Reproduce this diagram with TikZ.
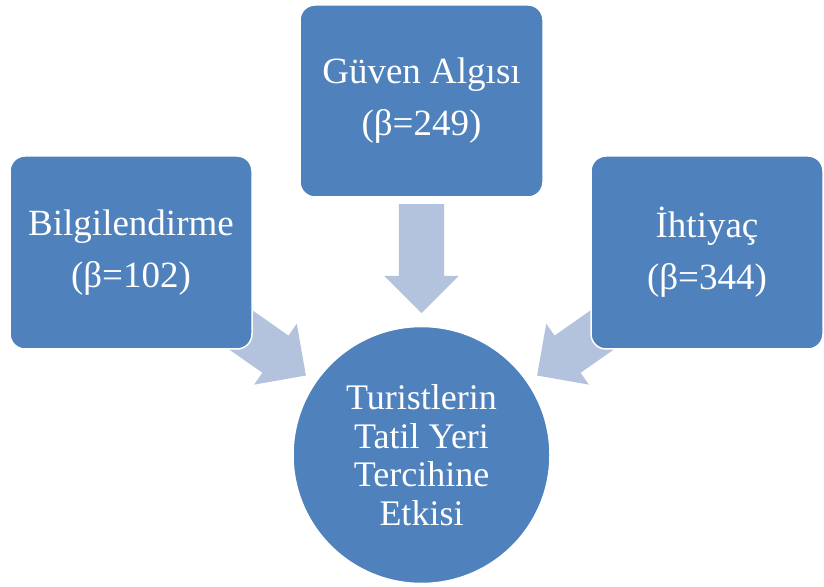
\documentclass[tikz,border=0pt]{standalone}
\usepackage{fontspec}
\setmainfont{Liberation Serif}
\usepackage{tikz}
\usetikzlibrary{shapes.arrows, positioning, calc, backgrounds}
\definecolor{kutumavi}{RGB}{79,129,189}
\definecolor{okmavi}{RGB}{179,194,221}

\begin{document}
\begin{tikzpicture}[x=1pt, y=1pt,
	kutu/.style={rectangle, rounded corners=15pt, fill=kutumavi, draw=white, line width=1.5pt, text=white, align=center, font=\fontsize{37}{52}\selectfont, minimum height=193pt},
	sonuc/.style={circle, fill=kutumavi, draw=white, line width=1.5pt, text=white, align=center, font=\fontsize{36}{38.5}\selectfont, minimum size=257pt, inner sep=0pt},
	okblok/.style={single arrow, fill=okmavi, minimum height=109pt, inner xsep=0pt, inner ysep=22.5pt, single arrow head extend=14.5pt, single arrow tip angle=90}]
						\useasboundingbox (0,0) rectangle (824,586);
						\node[kutu, minimum width=242pt] (b1) at (131,333.5) {Bilgilendirme\\(β=102)};
						\node[kutu, minimum width=243pt, minimum height=192pt] (b2) at (421.5,485) {Güven Algısı\\(β=249)};
						\node[kutu, minimum width=232pt] (b3) at (707,333.5) {İhtiyaç\\(β=344)};
						\node[sonuc] (etki) at (421.5,131) {Turistlerin\\Tatil Yeri\\Tercihine\\Etkisi};
						\begin{scope}[on background layer]
						\node[okblok, rotate=-90] (o2) at ($(b2.south)!0.5!(etki.north)+(0,14.5)$) {};
						\node[okblok, rotate=-35] (o1) at ($(b1.south east)+(-0.8,12)$) {};
						\node[okblok, rotate=215] (o3) at ($(b3.south west)+(0.8,12)$) {};
						\end{scope}
					\end{tikzpicture}
\end{document}
